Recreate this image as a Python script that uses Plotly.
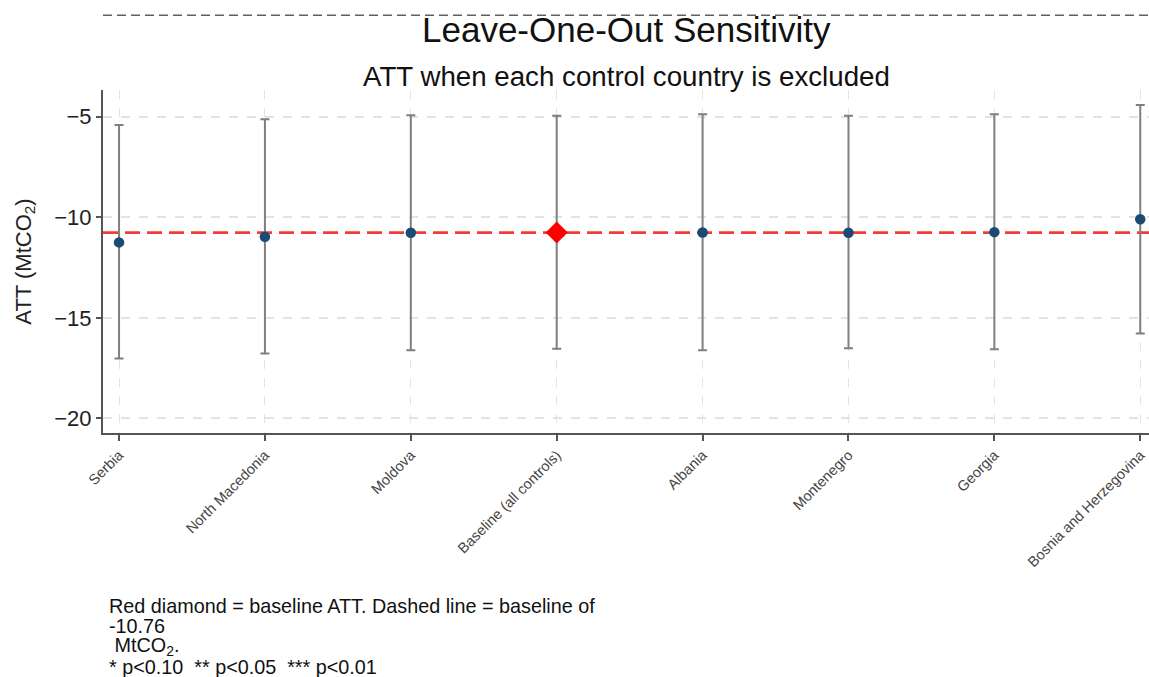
import plotly.graph_objects as go

# Leave-one-out estimates of the ATT (MtCO2) with confidence intervals
countries = ["Serbia", "North Macedonia", "Moldova", "Baseline (all controls)",
             "Albania", "Montenegro", "Georgia", "Bosnia and Herzegovina"]
att = [-11.25, -10.97, -10.77, -10.76, -10.76, -10.77, -10.74, -10.10]
ci_low = [-17.02, -16.77, -16.61, -16.54, -16.61, -16.52, -16.57, -15.78]
ci_high = [-5.41, -5.13, -4.92, -4.95, -4.88, -4.95, -4.88, -4.42]
baseline_att = -10.76
baseline_label = "Baseline (all controls)"
y_ticks = [-5, -10, -15, -20]
note_lines = [
    "Red diamond = baseline ATT. Dashed line = baseline of",
    "-10.76",
    " MtCO<sub>2</sub>.",
    "* p&lt;0.10  ** p&lt;0.05  *** p&lt;0.01",
]

FONT = "Liberation Sans, Arial, sans-serif"

idx = list(range(len(countries)))
err_plus = [h - a for h, a in zip(ci_high, att)]
err_minus = [a - l for a, l in zip(att, ci_low)]

fig = go.Figure()

# Confidence intervals for every estimate
fig.add_trace(go.Scatter(
    x=idx, y=att, mode="markers",
    marker=dict(size=10.5, color="#1b4a73"),
    error_y=dict(type="data", symmetric=False, array=err_plus, arrayminus=err_minus,
                 color="#7f7f7f", thickness=2, width=4.5),
    showlegend=False, hoverinfo="skip",
))

# Baseline estimate highlighted as a red diamond
b = countries.index(baseline_label)
fig.add_trace(go.Scatter(
    x=[b], y=[att[b]], mode="markers",
    marker=dict(size=17, color="#ff0000", symbol="diamond"),
    showlegend=False, hoverinfo="skip",
))

# Baseline reference line
fig.add_shape(type="line", xref="paper", x0=0, x1=1, yref="y",
              y0=baseline_att, y1=baseline_att,
              line=dict(color="#ef3d38", width=2.8, dash="15px,7px"), layer="below")

# Dashed rule above the title
fig.add_shape(type="line", xref="paper", yref="paper", x0=0, x1=1.0,
              y0=1.218, y1=1.218, line=dict(color="#606060", width=1.5, dash="9px,5px"))

fig.add_annotation(text="Leave-One-Out Sensitivity", xref="paper", yref="paper",
                   x=0.5, y=1.175, xanchor="center", yanchor="middle", showarrow=False,
                   font=dict(size=35, color="#111111", family=FONT))
fig.add_annotation(text="ATT when each control country is excluded", xref="paper", yref="paper",
                   x=0.5, y=1.038, xanchor="center", yanchor="middle", showarrow=False,
                   font=dict(size=27.7, color="#111111", family=FONT))

# Footnote, one annotation per line
note_y = [-0.5044, -0.5627, -0.6210, -0.6820]
for line, yy in zip(note_lines, note_y):
    fig.add_annotation(text=line, xref="paper", yref="paper", x=0.004, y=yy,
                       xanchor="left", yanchor="middle", align="left", showarrow=False,
                       font=dict(size=19.8, color="#111111", family=FONT))

fig.update_layout(
    width=1149, height=677,
    margin=dict(l=103, r=0, t=90, b=244),
    paper_bgcolor="white", plot_bgcolor="white",
    font=dict(family=FONT, color="#222222"),
    xaxis=dict(
        range=[-0.11, 7.06], tickmode="array", tickvals=idx, ticktext=countries,
        tickangle=-45, tickfont=dict(size=14.5, color="#444444"),
        showline=True, linecolor="#555555", linewidth=2,
        ticks="outside", ticklen=6, tickcolor="#555555", tickwidth=1.5,
        showgrid=True, gridcolor="#e3e3e3", griddash="dash", gridwidth=1,
        zeroline=False,
    ),
    yaxis=dict(
        range=[-20.73, -3.67], tickmode="array", tickvals=y_ticks,
        ticktext=["\u2212" + str(abs(v)) for v in y_ticks],
        tickfont=dict(size=22, color="#222222"),
        showline=True, linecolor="#555555", linewidth=2,
        ticks="outside", ticklen=5, tickcolor="#555555", tickwidth=1.5,
        showgrid=True, gridcolor="#e3e3e3", griddash="dash", gridwidth=1.5,
        zeroline=False,
        title=dict(text="ATT (MtCO<sub>2</sub>)", font=dict(size=22, color="#222222"),
                   standoff=17),
    ),
)

fig.write_html("out.html")
